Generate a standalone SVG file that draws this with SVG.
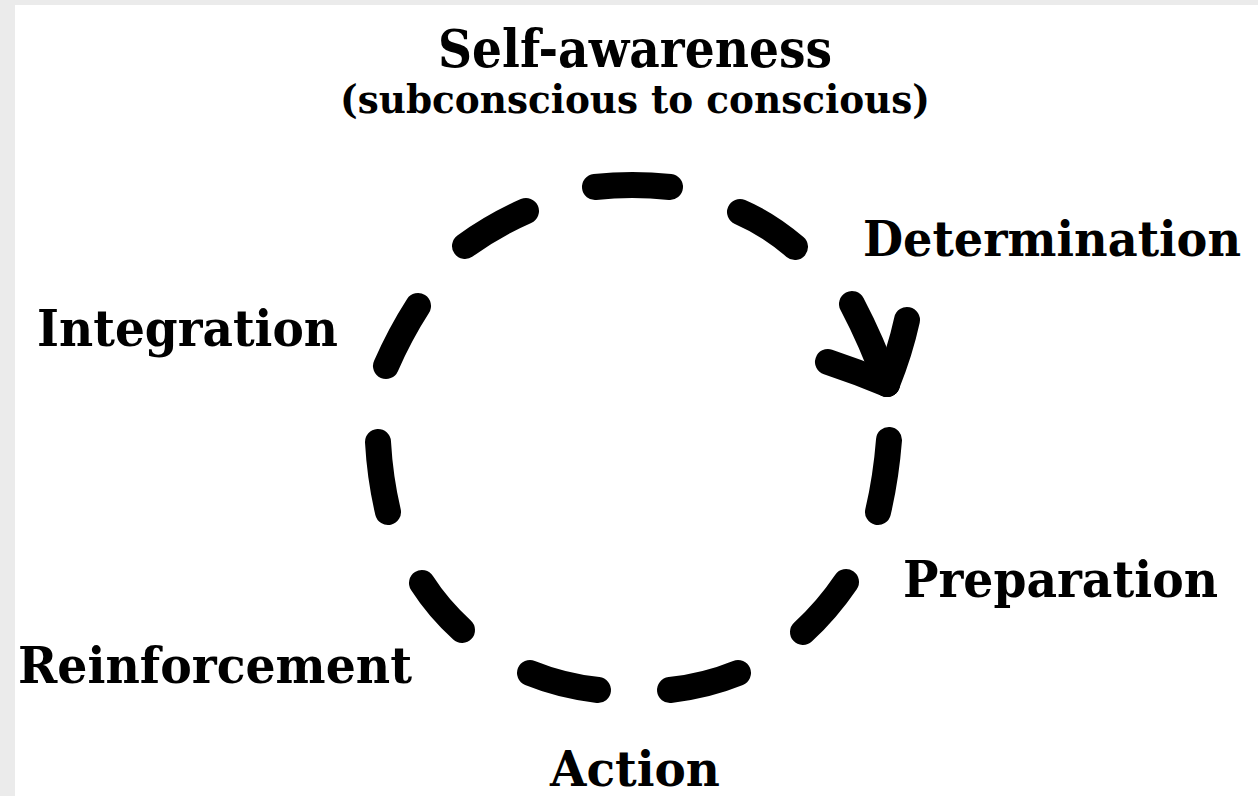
<svg xmlns="http://www.w3.org/2000/svg" width="1258" height="796" viewBox="0 0 1258 796">
<style>
.lbl{font-family:"DejaVu Serif","Liberation Serif",serif;font-weight:bold;fill:#000}
.d{fill:none;stroke:#000;stroke-width:26;stroke-linecap:round;stroke-linejoin:round}
</style>
<rect x="0" y="0" width="1258" height="796" fill="#ebebeb"/>
<rect x="15" y="5" width="1243" height="791" fill="#ffffff"/>
<g id="connectors">
<path class="d" d="M595,187 Q632,183 670,187"/>
<path class="d" d="M740,212 Q768,224 795,247"/>
<path class="d" d="M852,304 Q872,342 887,384"/>
<path class="d" d="M907,320 Q900,352 887,384"/>
<path class="d" d="M828,362 Q858,372 887,384"/>
<path class="d" d="M889,440 Q886,478 878,512"/>
<path class="d" d="M846,582 Q827,610 803,632"/>
<path class="d" d="M738,673 Q706,686 670,690"/>
<path class="d" d="M598,690 Q562,686 530,673"/>
<path class="d" d="M462,630 Q438,608 422,583"/>
<path class="d" d="M388,512 Q380,478 378,442"/>
<path class="d" d="M386,366 Q400,334 418,306"/>
<path class="d" d="M465,246 Q494,225 526,211"/>
</g>
<g id="self-awareness">
<text class="lbl" x="438" y="67" font-size="52" textLength="394" lengthAdjust="spacingAndGlyphs">Self-awareness</text>
<text class="lbl" x="340" y="113" font-size="40" textLength="590" lengthAdjust="spacingAndGlyphs">(subconscious to conscious)</text>
</g>
<g id="determination"><text class="lbl" x="863" y="256" font-size="49" textLength="378" lengthAdjust="spacingAndGlyphs">Determination</text></g>
<g id="integration"><text class="lbl" x="37" y="346" font-size="50" textLength="301" lengthAdjust="spacingAndGlyphs">Integration</text></g>
<g id="preparation"><text class="lbl" x="903" y="597" font-size="50" textLength="315" lengthAdjust="spacingAndGlyphs">Preparation</text></g>
<g id="reinforcement"><text class="lbl" x="18" y="683" font-size="50" textLength="394" lengthAdjust="spacingAndGlyphs">Reinforcement</text></g>
<g id="action"><text class="lbl" x="550" y="786" font-size="49" textLength="170" lengthAdjust="spacingAndGlyphs">Action</text></g>
</svg>
